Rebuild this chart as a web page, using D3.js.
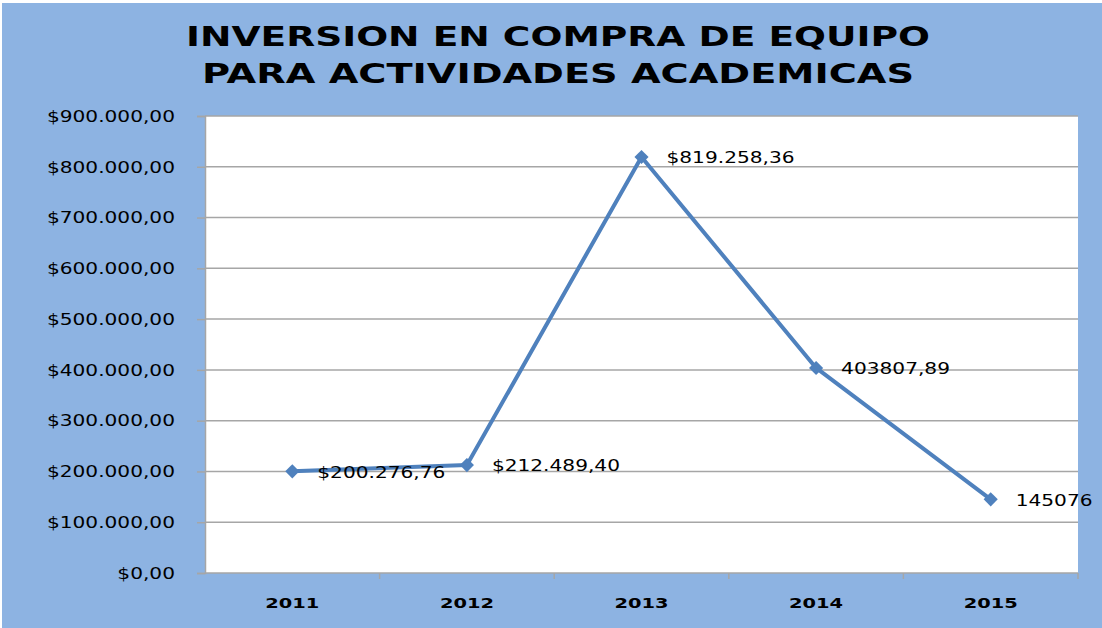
<!DOCTYPE html>
<html>
<head>
<meta charset="utf-8">
<script src="https://cdn.jsdelivr.net/npm/d3@7"></script>
<style>
  body { margin: 0; background: #fff; }
  svg { display: block; }
</style>
</head>
<body>
<div id="chart"></div>
<script>
// data
var years = ["2011", "2012", "2013", "2014", "2015"];
var values = [200276.76, 212489.40, 819258.36, 403807.89, 145076];
var valueLabels = ["$200.276,76", "$212.489,40", "$819.258,36", "403807,89", "145076"];
var yTicks = [0, 100000, 200000, 300000, 400000, 500000, 600000, 700000, 800000, 900000];
var titleLines = ["INVERSION EN COMPRA DE EQUIPO", "PARA ACTIVIDADES ACADEMICAS"];

var width = 1102, height = 628;
var margin = { top: 116, right: 24, bottom: 55, left: 205 };
var plotW = width - margin.left - margin.right,
    plotH = height - margin.top - margin.bottom;

// format like "$900.000,00"
var locale = d3.formatLocale({ decimal: ",", thousands: ".", grouping: [3], currency: ["$", ""] });
var formatMoney = locale.format("$,.2f");

var labelFont = "'DejaVu Sans', sans-serif";
var stretch = 1.22; // reference font is wider than DejaVu

// widen text glyphs to look like the original font
function widen(sel, k) {
    sel.each(function() {
        var w = this.getComputedTextLength();
        d3.select(this)
            .attr("textLength", w * k)
            .attr("lengthAdjust", "spacingAndGlyphs");
    });
}

var svg = d3.select("#chart").append("svg")
    .attr("width", width)
    .attr("height", height);

// blue background
svg.append("rect")
    .attr("x", 2).attr("y", 3)
    .attr("width", width - 2).attr("height", height - 3)
    .style("fill", "#8db3e2");

// title
var titleWidths = [744, 712];
svg.append("g").selectAll("text")
    .data(titleLines)
    .enter().append("text")
    .attr("x", 558)
    .attr("y", function(d, i) { return 46 + i * 37; })
    .attr("text-anchor", "middle")
    .attr("textLength", function(d, i) { return titleWidths[i]; })
    .attr("lengthAdjust", "spacingAndGlyphs")
    .style("font-family", labelFont)
    .style("font-weight", "bold")
    .style("font-size", "27px")
    .style("fill", "#000")
    .text(function(d) { return d; });

var g = svg.append("g")
    .attr("transform", "translate(" + margin.left + "," + margin.top + ")");

var x = d3.scaleBand().domain(years).range([0, plotW]);
var y = d3.scaleLinear().domain([0, 900000]).range([plotH, 0]);

// plot area
g.append("rect")
    .attr("width", plotW)
    .attr("height", plotH)
    .style("fill", "#fff");

// gridlines
g.append("g").selectAll("line")
    .data(yTicks.slice(1))
    .enter().append("line")
    .attr("x1", 0).attr("x2", plotW)
    .attr("y1", function(d) { return y(d); })
    .attr("y2", function(d) { return y(d); })
    .style("stroke", "#a6a6a6")
    .style("stroke-width", 1.5);

// y axis
var yAxis = g.append("g")
    .call(d3.axisLeft(y).tickValues(yTicks).tickSize(8).tickPadding(22).tickFormat(formatMoney));
yAxis.select(".domain").style("stroke", "#a6a6a6").style("stroke-width", 1.5);
yAxis.selectAll(".tick line").style("stroke", "#a6a6a6").style("stroke-width", 1.5);
yAxis.selectAll("text")
    .style("font-family", labelFont)
    .style("font-size", "16.5px")
    .style("fill", "#000")
    .call(widen, stretch);

// x axis: ticks at band boundaries
var xAxis = g.append("g")
    .attr("transform", "translate(0," + plotH + ")");
xAxis.append("line")
    .attr("x1", 0).attr("x2", plotW)
    .style("stroke", "#a6a6a6").style("stroke-width", 1.5);
xAxis.selectAll(".xtick")
    .data(years)
    .enter().append("line")
    .attr("class", "xtick")
    .attr("x1", function(d) { return x(d) + x.bandwidth(); })
    .attr("x2", function(d) { return x(d) + x.bandwidth(); })
    .attr("y1", 0).attr("y2", 6)
    .style("stroke", "#a6a6a6").style("stroke-width", 1.5);
xAxis.selectAll(".xlabel")
    .data(years)
    .enter().append("text")
    .attr("class", "xlabel")
    .attr("x", function(d) { return x(d) + x.bandwidth() / 2; })
    .attr("y", 35)
    .attr("text-anchor", "middle")
    .attr("textLength", 54)
    .attr("lengthAdjust", "spacingAndGlyphs")
    .style("font-family", labelFont)
    .style("font-weight", "bold")
    .style("font-size", "14.5px")
    .style("fill", "#000")
    .text(function(d) { return d; });

// line
var line = d3.line()
    .x(function(d, i) { return x(years[i]) + x.bandwidth() / 2; })
    .y(function(d) { return y(d); });

g.append("path")
    .datum(values)
    .attr("d", line)
    .style("fill", "none")
    .style("stroke", "#4f81bd")
    .style("stroke-width", 4)
    .style("stroke-linejoin", "round");

// markers
g.append("g").selectAll("path")
    .data(values)
    .enter().append("path")
    .attr("d", d3.symbol().type(d3.symbolSquare).size(100))
    .attr("transform", function(d, i) {
        return "translate(" + (x(years[i]) + x.bandwidth() / 2) + "," + y(d) + ") rotate(45)";
    })
    .style("fill", "#4f81bd");

// data labels
g.append("g").selectAll("text")
    .data(values)
    .enter().append("text")
    .attr("x", function(d, i) { return x(years[i]) + x.bandwidth() / 2 + 25; })
    .attr("y", function(d) { return y(d); })
    .attr("dy", "0.38em")
    .style("font-family", labelFont)
    .style("font-size", "16.5px")
    .style("fill", "#000")
    .text(function(d, i) { return valueLabels[i]; })
    .call(widen, stretch);
</script>
</body>
</html>
